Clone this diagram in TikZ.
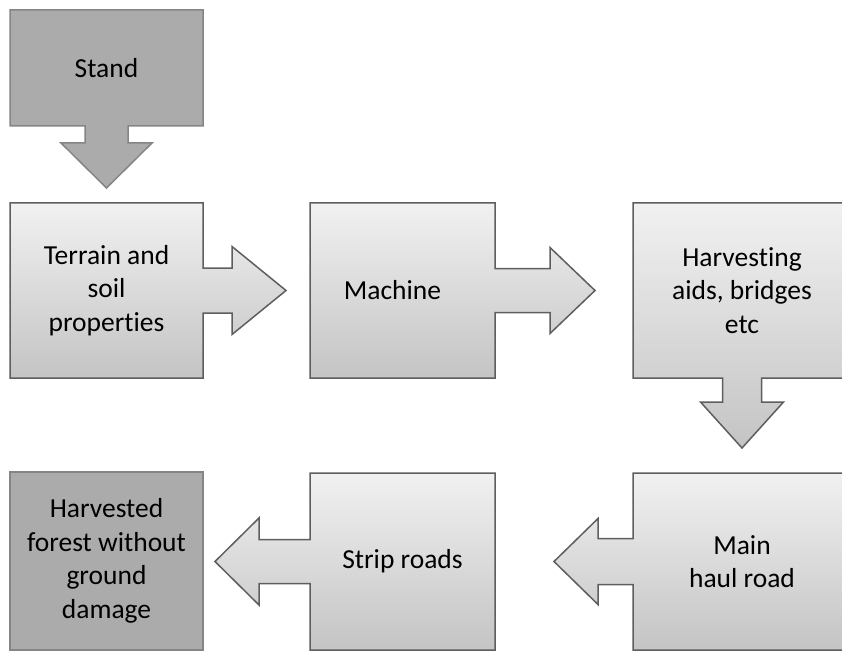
\documentclass[tikz,border=0pt]{standalone}
\usepackage{fontspec}
\setmainfont[Ligatures=NoCommon]{Carlito}
\usetikzlibrary{calc,backgrounds}
\definecolor{edgeC}{HTML}{5E5E5E}
\definecolor{darkF}{HTML}{ABABAB}
\definecolor{darkE}{HTML}{858585}
\definecolor{topC}{HTML}{F1F1F1}
\definecolor{botC}{HTML}{C4C4C4}

\begin{document}
\begin{tikzpicture}[x=1pt,y=-1pt,font=\fontsize{27.5}{33.5}\selectfont,
  box/.style={minimum height=175pt,align=center,inner sep=0pt,outer sep=0pt},
  grad/.style={draw=edgeC,line width=1.5pt,line join=miter,top color=topC,bottom color=botC},
  darkbox/.style={draw=darkE,line width=1.5pt,line join=miter,fill=darkF}]
\useasboundingbox (0,0) rectangle (842,652);

% text and box frames
\node[box,minimum width=193pt,minimum height=116pt] (stand) at (106.5,68) {Stand};
\node[box,minimum width=193pt] (terrain) at (106.5,290.5) {Terrain and\\soil\\properties};
\node[box,minimum width=185pt] (machine) at (402.5,290.5) {Machine\hspace*{20pt}};
\node[box,minimum width=218pt] (aids) at (742,290.5) {Harvesting\\aids, bridges\\etc};
\node[box,minimum width=193pt,minimum height=178pt] (forest) at (106.5,561) {Harvested\\forest without\\ground\\damage};
\node[box,minimum width=185pt,minimum height=177pt] (strip) at (402.5,561.5) {Strip roads};
\node[box,minimum width=218pt,minimum height=177pt] (haul) at (742,561.5) {Main\\haul road};

\begin{scope}[on background layer]
% down arrow callouts
\path[darkbox] (stand.north west) -- (stand.north east) -- (stand.south east)
  -- ($(stand.south)+(21.5,0)$) -- ++(0,17) -- ++(24,0) -- ($(stand.south)+(0,62)$)
  -- ($(stand.south)+(-45.5,17)$) -- ++(24,0) -- ++(0,-17) -- (stand.south west) -- cycle;
\path[grad] (aids.north west) -- (aids.north east) -- (aids.south east)
  -- ($(aids.south)+(19.5,0)$) -- ++(0,24) -- ++(22,0) -- ($(aids.south)+(0,70)$)
  -- ($(aids.south)+(-41.5,24)$) -- ++(22,0) -- ++(0,-24) -- (aids.south west) -- cycle;
% right arrow callouts
\path[grad] (terrain.north west) -- (terrain.north east) -- ($(terrain.east)+(0,-22.5)$)
  -- ++(29,0) -- ++(0,-21.5) -- ($(terrain.east)+(83,0)$) -- ($(terrain.east)+(29,44)$)
  -- ++(0,-21.5) -- ($(terrain.east)+(0,22.5)$) -- (terrain.south east) -- (terrain.south west) -- cycle;
\path[grad] (machine.north west) -- (machine.north east) -- ($(machine.east)+(0,-22)$)
  -- ++(55,0) -- ++(0,-21) -- ($(machine.east)+(100,0)$) -- ($(machine.east)+(55,43)$)
  -- ++(0,-21) -- ($(machine.east)+(0,22)$) -- (machine.south east) -- (machine.south west) -- cycle;
% left arrow callouts
\path[grad] (haul.north west) -- (haul.north east) -- (haul.south east) -- (haul.south west)
  -- ($(haul.west)+(0,23)$) -- ++(-35,0) -- ++(0,20) -- ($(haul.west)+(-79,0)$)
  -- ($(haul.west)+(-35,-43)$) -- ++(0,20) -- ($(haul.west)+(0,-23)$) -- cycle;
\path[grad] (strip.north west) -- (strip.north east) -- (strip.south east) -- (strip.south west)
  -- ($(strip.west)+(0,22)$) -- ++(-51,0) -- ++(0,21.5) -- ($(strip.west)+(-95,0)$)
  -- ($(strip.west)+(-51,-43.5)$) -- ++(0,21.5) -- ($(strip.west)+(0,-22)$) -- cycle;
% end box
\path[darkbox] (forest.north west) rectangle (forest.south east);
\end{scope}
\end{tikzpicture}
\end{document}
